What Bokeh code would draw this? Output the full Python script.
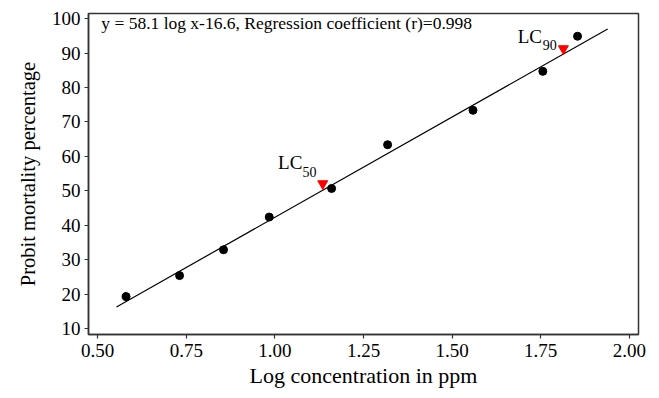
from bokeh.plotting import figure
from bokeh.models import Range1d, Label, FixedTicker
from bokeh.embed import file_html
from bokeh.resources import INLINE

# Observed data (log concentration in ppm vs probit mortality %)
log_conc = [0.580, 0.731, 0.855, 0.984, 1.160, 1.318, 1.559, 1.756, 1.854]
probit_mort = [19.3, 25.4, 32.9, 42.4, 50.7, 63.4, 73.4, 84.7, 94.9]

# Regression line endpoints
line_x = [0.553, 1.939]
line_y = [16.3, 97.0]

# LC markers
lc_x = [1.135, 1.814]
lc_y = [52.1, 91.3]
lc_labels = ["50", "90"]

x_ticks = [0.50, 0.75, 1.00, 1.25, 1.50, 1.75, 2.00]
y_ticks = [10, 20, 30, 40, 50, 60, 70, 80, 90, 100]

FONT = "Liberation Serif"

p = figure(width=650, height=390, output_backend="svg", toolbar_location=None,
           x_range=Range1d(0.474, 2.026), y_range=Range1d(8.3, 101.5),
           min_border_left=88, min_border_right=12, min_border_top=13, min_border_bottom=53)
p.grid.visible = False
p.outline_line_color = "#333333"
p.outline_line_width = 1.5
p.background_fill_color = "white"
p.border_fill_color = "white"

for ax in (p.xaxis[0], p.yaxis[0]):
    ax.axis_line_color = "#333333"
    ax.axis_line_width = 1.5
    ax.major_tick_line_color = "#333333"
    ax.major_tick_line_width = 1.2
    ax.major_tick_in = 0
    ax.major_tick_out = 4
    ax.minor_tick_line_color = None
    ax.major_label_text_font = FONT
    ax.major_label_text_font_size = "19px"
    ax.major_label_text_color = "black"
    ax.axis_label_text_font = FONT
    ax.axis_label_text_font_style = "normal"
    ax.axis_label_text_color = "black"

p.xaxis.axis_label_text_font_size = "22px"
p.yaxis.axis_label_text_font_size = "20.5px"
p.xaxis.ticker = FixedTicker(ticks=x_ticks)
p.yaxis.ticker = FixedTicker(ticks=y_ticks)
p.xaxis.major_label_overrides = {t: f"{t:.2f}" for t in x_ticks}
p.xaxis.axis_label = "Log concentration in ppm"
p.yaxis.axis_label = "Probit mortality percentage"
p.xaxis.major_label_standoff = 5
p.yaxis.major_label_standoff = 4
p.xaxis.axis_label_standoff = 3
p.yaxis.axis_label_standoff = 10

p.line(line_x, line_y, line_color="black", line_width=1.2)
p.scatter(log_conc, probit_mort, marker="circle", size=8, fill_color="black", line_color="black")
p.scatter(lc_x, lc_y, marker="inverted_triangle", size=10, fill_color="red", line_color="red")

p.add_layout(Label(x=0.510, y=95.8, text="y = 58.1 log x-16.6, Regression coefficient (r)=0.998",
                   text_font=FONT, text_font_size="17.5px", text_color="black"))

# LC labels with subscripts
lc_text_pos = [(1.009, 55.1), (1.685, 91.9)]
lc_sub_pos = [(1.078, 53.9), (1.756, 90.8)]
for (tx, ty), (sx, sy), s in zip(lc_text_pos, lc_sub_pos, lc_labels):
    p.add_layout(Label(x=tx, y=ty, text="LC", text_font=FONT, text_font_size="19px", text_color="black"))
    p.add_layout(Label(x=sx, y=sy, text=s, text_font=FONT, text_font_size="14px", text_color="black"))

open("out.html", "w").write(file_html(p, INLINE))
